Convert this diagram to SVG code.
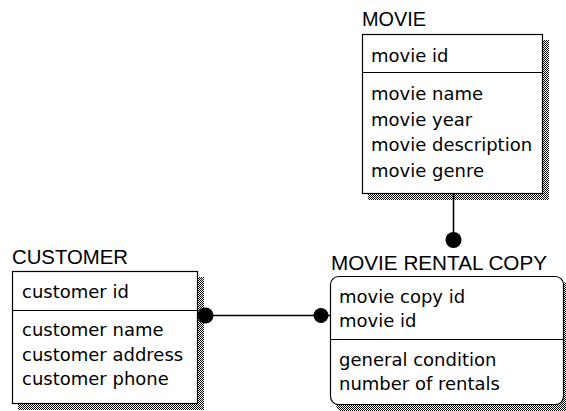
<svg xmlns="http://www.w3.org/2000/svg" width="566" height="411" viewBox="0 0 566 411">
  <defs>
    <pattern id="stipple" width="2" height="2" patternUnits="userSpaceOnUse">
      <rect x="0" y="0" width="1" height="1" fill="#000"/>
      <rect x="1" y="1" width="1" height="1" fill="#000"/>
    </pattern>
    <style>
      .box { fill: #fff; stroke: #000; stroke-width: 1.2; }
      .shadow { fill: url(#stipple); stroke: none; }
      .sep { stroke: #000; stroke-width: 1.2; fill: none; }
      .title { font-family: "Liberation Sans", Arial, sans-serif; font-size: 19.5px; fill: #000; }
      .attr { font-family: "DejaVu Sans", "Liberation Sans", sans-serif; font-size: 18px; fill: #000; }
      .conn { stroke: #000; stroke-width: 1.6; fill: none; }
      .dot { fill: #000; stroke: none; }
    </style>
  </defs>
  <rect width="566" height="411" fill="#fff"/>

  <g id="node-movie">
    <rect class="shadow" x="368" y="40" width="181" height="160"/>
    <rect class="box" x="362.5" y="34.5" width="180" height="159"/>
    <line class="sep" x1="362.5" y1="72.5" x2="542.5" y2="72.5"/>
    <text class="title" x="362" y="26" textLength="64" lengthAdjust="spacingAndGlyphs">MOVIE</text>
    <text class="attr" x="371" y="62">movie id</text>
    <text class="attr" x="371" y="100">movie name</text>
    <text class="attr" x="371" y="125.5">movie year</text>
    <text class="attr" x="371" y="151">movie description</text>
    <text class="attr" x="371" y="176.5">movie genre</text>
  </g>

  <g id="node-customer">
    <rect class="shadow" x="18" y="277" width="186" height="133"/>
    <rect class="box" x="12.5" y="271.5" width="185" height="132"/>
    <line class="sep" x1="12.5" y1="310.5" x2="197.5" y2="310.5"/>
    <text class="title" x="12" y="264" textLength="116" lengthAdjust="spacingAndGlyphs">CUSTOMER</text>
    <text class="attr" x="22" y="298">customer id</text>
    <text class="attr" x="22" y="336">customer name</text>
    <text class="attr" x="22" y="360.5">customer address</text>
    <text class="attr" x="22" y="385">customer phone</text>
  </g>

  <g id="node-rental">
    <rect class="shadow" x="336" y="282" width="234" height="130" rx="8" ry="8"/>
    <rect class="box" x="330.5" y="276.5" width="233" height="128" rx="8" ry="8"/>
    <line class="sep" x1="330.5" y1="339.5" x2="563.5" y2="339.5"/>
    <text class="title" x="331" y="270" textLength="216" lengthAdjust="spacingAndGlyphs">MOVIE RENTAL COPY</text>
    <text class="attr" x="339" y="303">movie copy id</text>
    <text class="attr" x="339" y="327">movie id</text>
    <text class="attr" x="339" y="365.5">general condition</text>
    <text class="attr" x="339" y="390">number of rentals</text>
  </g>

  <g id="connectors">
    <line class="conn" x1="453.5" y1="194" x2="453.5" y2="240"/>
    <circle class="dot" cx="453.5" cy="240" r="8"/>
    <line class="conn" x1="198" y1="315.5" x2="330" y2="315.5"/>
    <circle class="dot" cx="205.5" cy="315.5" r="8"/>
    <circle class="dot" cx="321" cy="315.5" r="7.5"/>
  </g>
</svg>
